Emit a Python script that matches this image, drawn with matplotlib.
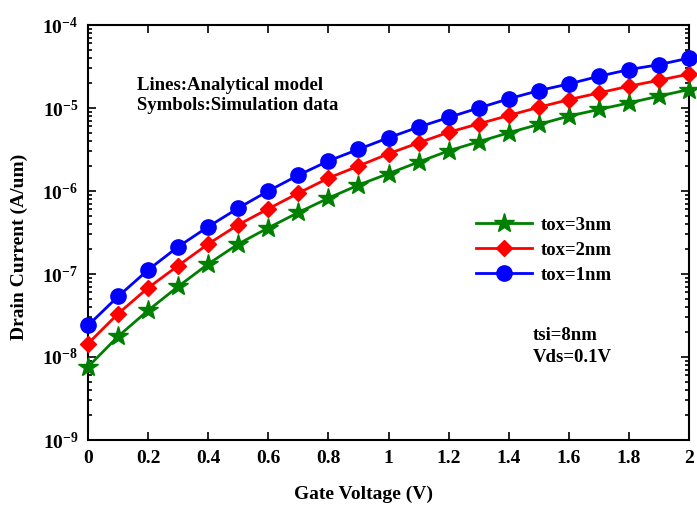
import numpy as np
import matplotlib
matplotlib.use("Agg")
import matplotlib.pyplot as plt
from matplotlib.ticker import FuncFormatter, LogLocator, MultipleLocator, NullFormatter

plt.rcParams['font.family'] = ['Liberation Serif', 'DejaVu Serif']
plt.rcParams['font.weight'] = 'bold'
plt.rcParams['mathtext.fontset'] = 'custom'
plt.rcParams['mathtext.rm'] = 'Liberation Serif:bold'
plt.rcParams['mathtext.bf'] = 'Liberation Serif:bold'
plt.rcParams['mathtext.it'] = 'Liberation Serif:bold'

vg = [0.0, 0.1, 0.2, 0.3, 0.4, 0.5, 0.6, 0.7, 0.8, 0.9, 1.0,
      1.1, 1.2, 1.3, 1.4, 1.5, 1.6, 1.7, 1.8, 1.9, 2.0]

id_tox3 = [7.6e-9, 1.77e-8, 3.64e-8, 7.07e-8, 1.32e-7, 2.30e-7, 3.60e-7, 5.51e-7,
           8.2e-7, 1.18e-6, 1.62e-6, 2.23e-6, 3.05e-6, 3.92e-6, 5.03e-6, 6.34e-6,
           7.98e-6, 9.6e-6, 1.15e-5, 1.39e-5, 1.67e-5]
id_tox2 = [1.45e-8, 3.32e-8, 6.81e-8, 1.26e-7, 2.30e-7, 3.92e-7, 6.1e-7, 9.42e-7,
           1.43e-6, 2.0e-6, 2.81e-6, 3.81e-6, 5.1e-6, 6.44e-6, 8.13e-6, 1.02e-5,
           1.26e-5, 1.52e-5, 1.83e-5, 2.16e-5, 2.56e-5]
id_tox1 = [2.40e-8, 5.36e-8, 1.12e-7, 2.13e-7, 3.71e-7, 6.22e-7, 1.0e-6, 1.55e-6,
           2.30e-6, 3.18e-6, 4.38e-6, 5.89e-6, 7.7e-6, 1.0e-5, 1.29e-5, 1.62e-5,
           1.95e-5, 2.41e-5, 2.90e-5, 3.33e-5, 3.99e-5]

labels = ['tox=3nm', 'tox=2nm', 'tox=1nm']

fig = plt.figure(figsize=(6.97, 5.09), dpi=100)
ax = fig.add_axes([88/697, 69/509, 601/697, 415/509])

ax.plot(vg, id_tox3, color='#008000', lw=2, marker='*', ms=15, label=labels[0], clip_on=False, zorder=3)
ax.plot(vg, id_tox2, color='#ff0000', lw=2, marker='D', ms=8.5, label=labels[1], clip_on=False, zorder=3)
ax.plot(vg, id_tox1, color='#0000ff', lw=2, marker='o', ms=11, label=labels[2], clip_on=False, zorder=3)

ax.set_yscale('log')
ax.set_xlim(0, 2)
ax.set_ylim(1e-9, 1e-4)
ax.xaxis.set_major_locator(MultipleLocator(0.2))
ax.xaxis.set_major_formatter(FuncFormatter(lambda v, p: ('%g' % round(v, 1))))
ax.yaxis.set_major_locator(LogLocator(base=10, numticks=10))
ax.yaxis.set_minor_locator(LogLocator(base=10, subs=np.arange(2, 10), numticks=20))
ax.yaxis.set_minor_formatter(NullFormatter())
ax.yaxis.set_major_formatter(FuncFormatter(lambda v, p: r'$\mathbf{10^{%d}}$' % int(round(np.log10(v)))))

ax.tick_params(which='both', direction='in', top=True, right=True, width=1.2)
ax.tick_params(which='major', length=6, labelsize=14, pad=7)
ax.tick_params(which='minor', length=3)
for lab in ax.get_xticklabels():
    lab.set_fontweight('bold')
for s in ax.spines.values():
    s.set_linewidth(1.5)

ax.set_xlabel('Gate Voltage (V)', fontsize=14, fontweight='bold')
ax.set_ylabel('Drain Current (A/um)', fontsize=14, fontweight='bold')
ax.xaxis.set_label_coords((364 - 88)/601, (440 - 486)/415)
ax.yaxis.set_label_coords((28 - 88)/601, (440 - 247)/415)

fig.text(137/697, 1 - 85/509, 'Lines:Analytical model', fontsize=13.5, fontweight='bold', va='center')
fig.text(137/697, 1 - 105/509, 'Symbols:Simulation data', fontsize=13.5, fontweight='bold', va='center')
fig.text(533/697, 1 - 335/509, 'tsi=8nm', fontsize=13.5, fontweight='bold', va='center')
fig.text(533/697, 1 - 357/509, 'Vds=0.1V', fontsize=13.5, fontweight='bold', va='center')

leg = ax.legend(loc='upper left', bbox_to_anchor=((468 - 88)/601, (440 - 209)/415), frameon=False,
                prop={'weight': 'bold', 'size': 13.5}, handlelength=3.0, labelspacing=0.42,
                handletextpad=0.5, borderaxespad=0)

fig.savefig('out.png', dpi=100)
